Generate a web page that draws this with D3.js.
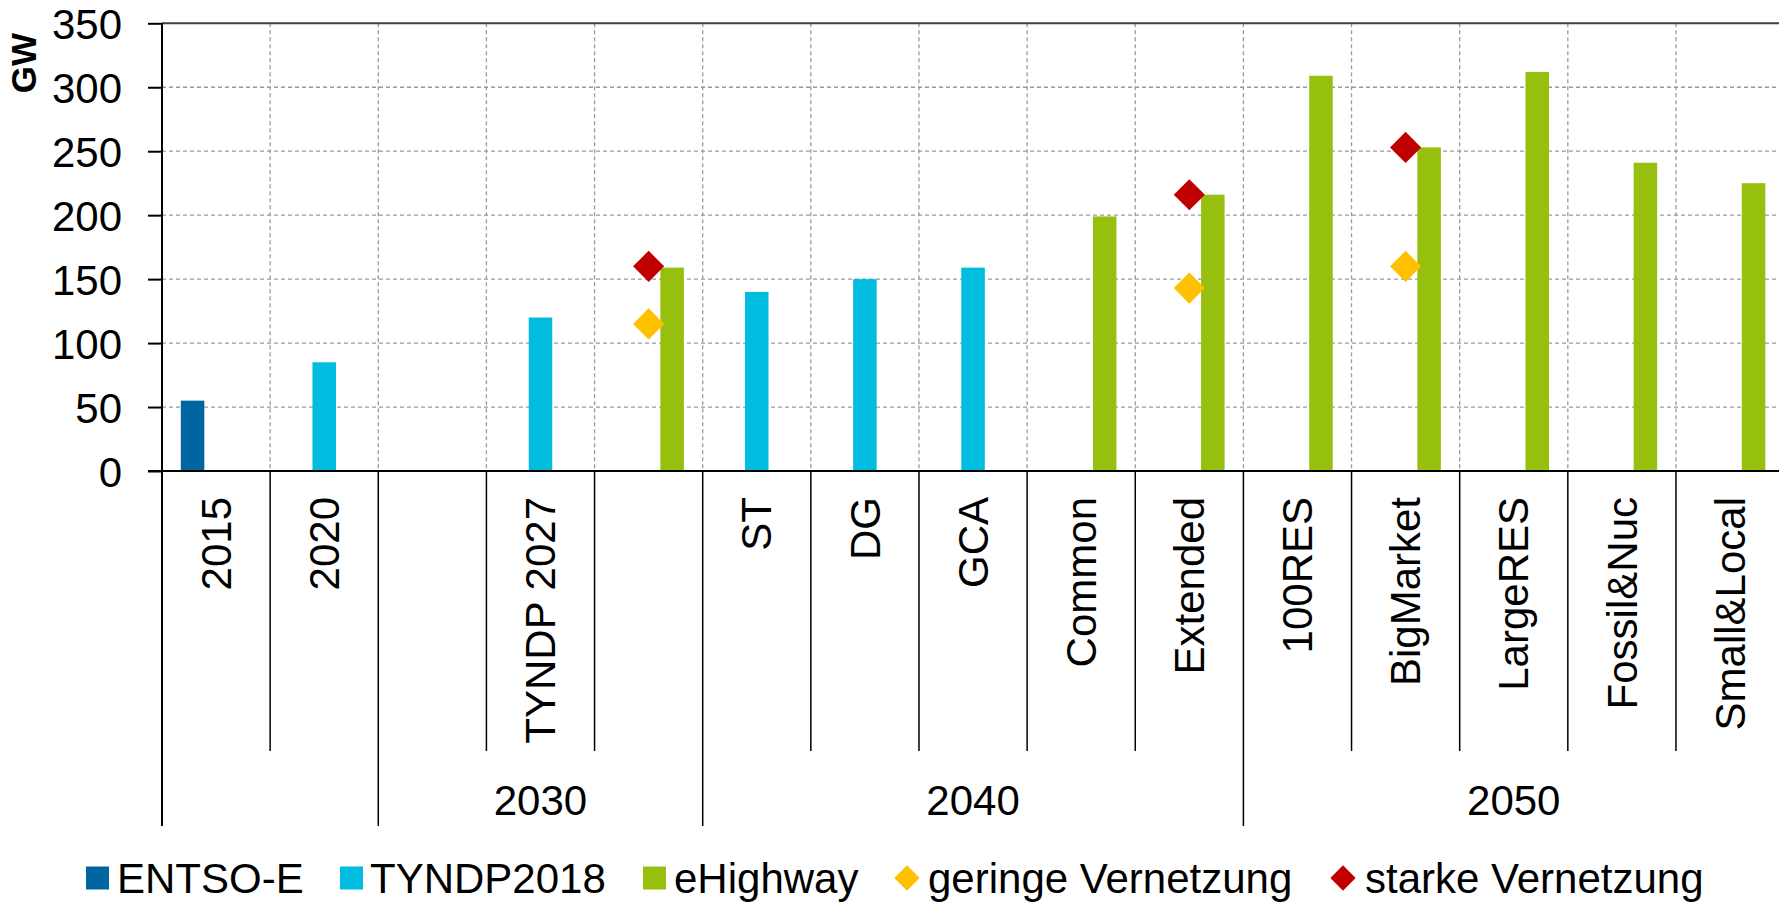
<!DOCTYPE html>
<html>
<head>
<meta charset="utf-8">
<script src="https://cdn.jsdelivr.net/npm/d3@7"></script>
<style>
  html, body { margin: 0; padding: 0; background: #fff; }
  svg { display: block; font-family: Arial, "Liberation Sans", sans-serif; }
</style>
</head>
<body>
<div id="chart"></div>
<script>
// ---- data ----
const categories = ["2015", "2020", "", "TYNDP 2027", "", "ST", "DG", "GCA", "Common", "Extended", "100RES", "BigMarket", "LargeRES", "Fossil&Nuc", "Small&Local"];
const groupLabels = ["", "2030", "2040", "2050"];
const groupSizes = [2, 3, 5, 5];
const barSeries = ["ENTSO-E", "TYNDP2018", "eHighway"];
const markerSeries = ["geringe Vernetzung", "starke Vernetzung"];
const entsoe    = [55, null, null, null, null, null, null, null, null, null, null, null, null, null, null];
const tyndp2018 = [null, 85, null, 120, null, 140, 150, 159, null, null, null, null, null, null, null];
const eHighway  = [null, null, null, null, 159, null, null, null, 199, 216, 309, 253, 312, 241, 225];
const geringe   = [null, null, null, null, 115, null, null, null, null, 143, null, 160, null, null, null];
const starke    = [null, null, null, null, 160, null, null, null, null, 216, null, 253, null, null, null];
const yTicks = [0, 50, 100, 150, 200, 250, 300, 350];
const yLabel = "GW";

const colors = {
  "ENTSO-E": "#0066a1",
  "TYNDP2018": "#00bde0",
  "eHighway": "#97bf0d",
  "geringe Vernetzung": "#ffc000",
  "starke Vernetzung": "#c00000"
};

// ---- layout ----
const W = 1779, H = 903;
const plotLeft = 162, plotRight = 1784.1, plotTop = 23.3, plotBottom = 471;
const font = 42;

const svg = d3.select("#chart").append("svg")
  .attr("width", W).attr("height", H)
  .style("overflow", "hidden");
svg.append("rect").attr("width", W).attr("height", H).attr("fill", "#fff");

const idx = d3.range(categories.length);
const x = d3.scaleBand().domain(idx).range([plotLeft, plotRight]).paddingInner(0).paddingOuter(0);
const xSub = d3.scaleBand().domain(barSeries).range([0, x.bandwidth()]).paddingInner(0).paddingOuter(0.8);
const y = d3.scaleLinear().domain([0, 350]).range([plotBottom, plotTop]);

// horizontal gridlines
svg.append("g").selectAll("line").data(yTicks.filter(t => t > 0 && t < 350)).join("line")
  .attr("x1", plotLeft).attr("x2", plotRight)
  .attr("y1", d => y(d)).attr("y2", d => y(d))
  .attr("stroke", "#9a9a9a").attr("stroke-width", 1.3).attr("stroke-dasharray", "4,3");
// vertical gridlines at category boundaries
svg.append("g").selectAll("line").data(idx.slice(1)).join("line")
  .attr("x1", d => x(d)).attr("x2", d => x(d))
  .attr("y1", plotTop).attr("y2", plotBottom)
  .attr("stroke", "#9a9a9a").attr("stroke-width", 1.3).attr("stroke-dasharray", "4,3");
// top border
svg.append("line").attr("x1", plotLeft).attr("x2", plotRight)
  .attr("y1", y(350)).attr("y2", y(350)).attr("stroke", "#404040").attr("stroke-width", 2);

// bars
const barData = [];
[[barSeries[0], entsoe], [barSeries[1], tyndp2018], [barSeries[2], eHighway]].forEach(([s, arr]) => {
  arr.forEach((v, i) => { if (v != null) barData.push({ s, i, v }); });
});
svg.append("g").selectAll("rect").data(barData).join("rect")
  .attr("x", d => x(d.i) + xSub(d.s))
  .attr("width", xSub.bandwidth())
  .attr("y", d => y(d.v))
  .attr("height", d => y(0) - y(d.v))
  .attr("fill", d => colors[d.s]);

// markers (diamonds)
const diamond = d3.symbol().type(d3.symbolSquare).size(484);
const markData = [];
[[markerSeries[0], geringe], [markerSeries[1], starke]].forEach(([s, arr]) => {
  arr.forEach((v, i) => { if (v != null) markData.push({ s, i, v }); });
});
svg.append("g").selectAll("path").data(markData).join("path")
  .attr("d", diamond)
  .attr("transform", d => `translate(${x(d.i) + x.bandwidth() / 2},${y(d.v)}) rotate(45)`)
  .attr("fill", d => colors[d.s]);

// y axis
const yAxis = d3.axisLeft(y).tickValues(yTicks).tickSize(14).tickPadding(26).tickFormat(d3.format("d"));
const gy = svg.append("g").attr("transform", `translate(${plotLeft},0)`).call(yAxis);
gy.select(".domain").remove();
gy.selectAll(".tick line").attr("stroke", "#000").attr("stroke-width", 2);
gy.selectAll(".tick text").attr("font-size", font).attr("fill", "#000")
  .attr("font-family", "Arial, 'Liberation Sans', sans-serif").attr("dy", "0.36em");

// y axis line extended down through category area
svg.append("line").attr("x1", plotLeft).attr("x2", plotLeft)
  .attr("y1", plotTop).attr("y2", 826).attr("stroke", "#000").attr("stroke-width", 2);
// x baseline
svg.append("line").attr("x1", plotLeft - 14).attr("x2", plotRight)
  .attr("y1", y(0)).attr("y2", y(0)).attr("stroke", "#000").attr("stroke-width", 2);

// category separator lines below the axis
let cum = 0;
const groupBounds = new Set([0]);
groupSizes.forEach(n => { cum += n; groupBounds.add(cum); });
svg.append("g").selectAll("line").data(d3.range(1, categories.length + 1)).join("line")
  .attr("x1", d => d < categories.length ? x(d) : plotRight)
  .attr("x2", d => d < categories.length ? x(d) : plotRight)
  .attr("y1", y(0)).attr("y2", d => groupBounds.has(d) ? 826 : 751)
  .attr("stroke", "#000").attr("stroke-width", 1.5);

// category labels (rotated)
svg.append("g").selectAll("text").data(idx).join("text")
  .attr("transform", d => `translate(${x(d) + x.bandwidth() / 2},497) rotate(-90)`)
  .attr("text-anchor", "end").attr("dy", "0.35em")
  .attr("font-size", font).attr("fill", "#000")
  .text(d => categories[d]);

// group labels
let start = 0;
const groupData = groupSizes.map((n, g) => { const o = { label: groupLabels[g], a: start, b: start + n }; start += n; return o; });
svg.append("g").selectAll("text").data(groupData).join("text")
  .attr("x", d => (x(d.a) + (d.b < categories.length ? x(d.b) : plotRight)) / 2)
  .attr("y", 815)
  .attr("text-anchor", "middle").attr("font-size", font).attr("fill", "#000")
  .text(d => d.label);

// y label
svg.append("text").attr("transform", "translate(36,63) rotate(-90)")
  .attr("text-anchor", "middle").attr("font-size", 35).attr("font-weight", "bold").attr("fill", "#000")
  .text(yLabel);

// legend
const legendY = 878;
const legendItems = [
  { s: "ENTSO-E", type: "rect", x: 86, tx: 117 },
  { s: "TYNDP2018", type: "rect", x: 340, tx: 370 },
  { s: "eHighway", type: "rect", x: 643, tx: 674 },
  { s: "geringe Vernetzung", type: "dia", x: 907, tx: 928 },
  { s: "starke Vernetzung", type: "dia", x: 1343, tx: 1365 }
];
const lg = svg.append("g");
legendItems.forEach(it => {
  if (it.type === "rect") {
    lg.append("rect").attr("x", it.x).attr("y", legendY - 11.5).attr("width", 23).attr("height", 23).attr("fill", colors[it.s]);
  } else {
    lg.append("path").attr("d", d3.symbol().type(d3.symbolSquare).size(320)())
      .attr("transform", `translate(${it.x},${legendY}) rotate(45)`).attr("fill", colors[it.s]);
  }
  lg.append("text").attr("x", it.tx).attr("y", legendY + 14.5)
    .attr("font-size", font).attr("fill", "#000").text(it.s);
});
</script>
</body>
</html>
